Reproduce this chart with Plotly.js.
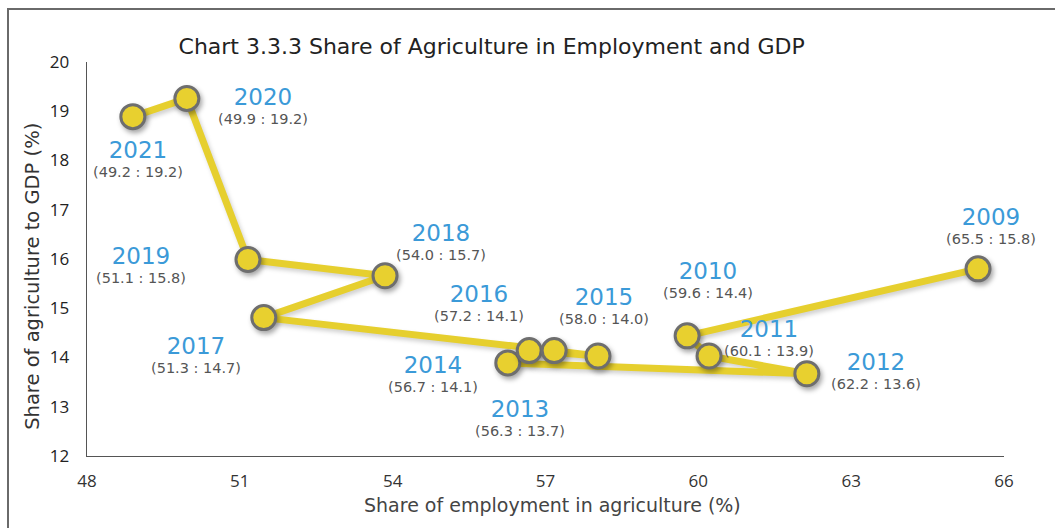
<!DOCTYPE html>
<html>
<head>
<meta charset="utf-8">
<script src="https://cdn.plot.ly/plotly-3.0.1.min.js"></script>
<style>
  html, body { margin: 0; padding: 0; background: #fff; }
  #wrap { position: relative; width: 1055px; height: 528px; }
  #chart { width: 1055px; height: 528px; }
  #frame { position: absolute; left: 7px; top: 8px; right: 0; bottom: 0;
           border-left: 2px solid #6a6a6a; border-top: 2px solid #6a6a6a; pointer-events: none; }
  #chart .scatterlayer .trace path.js-line { filter: drop-shadow(2px 3px 2px rgba(0,0,0,0.18)); }
  #chart .scatterlayer .trace path.point { filter: drop-shadow(2px 3px 2.5px rgba(0,0,0,0.35)); }
</style>
</head>
<body>
<div id="wrap">
  <div id="chart"></div>
  <div id="frame"></div>
</div>
<script>
// ---- data ----
const years = ['2009','2010','2011','2012','2013','2014','2015','2016','2017','2018','2019','2020','2021'];
// plotted position: share of employment in agriculture (%)
const employmentShare = [65.49, 59.78, 60.21, 62.13, 56.26, 56.68, 58.03, 57.17, 51.47, 53.85, 51.16, 49.96, 48.90];
// plotted position: share of agriculture to GDP (%)
const gdpShare = [15.80, 14.44, 14.03, 13.67, 13.89, 14.14, 14.03, 14.14, 14.81, 15.66, 15.99, 19.26, 18.89];
// value labels as printed on the chart
const valueLabels = ['(65.5 : 15.8)','(59.6 : 14.4)','(60.1 : 13.9)','(62.2 : 13.6)','(56.3 : 13.7)','(56.7 : 14.1)',
                     '(58.0 : 14.0)','(57.2 : 14.1)','(51.3 : 14.7)','(54.0 : 15.7)','(51.1 : 15.8)','(49.9 : 19.2)','(49.2 : 19.2)'];
const xTicks = [48, 51, 54, 57, 60, 63, 66];
const yTicks = [12, 13, 14, 15, 16, 17, 18, 19, 20];
const chartTitle = 'Chart 3.3.3 Share of Agriculture in Employment and GDP';
const xTitle = 'Share of employment in agriculture (%)';
const yTitle = 'Share of agriculture to GDP (%)';

// ---- label placement (pixel offsets of each label block from its point) ----
const labelOffset = [[13,-43],[21,-56],[60,-19],[69,-3],[12,55],[-96,23],[6,-51],[-75,-48],[-68,37],[56,-34],[-107,5],[76,7],[5,42]];

const FONT = 'Open Sans, Liberation Sans, sans-serif';
const WIDE = 'DejaVu Sans, Open Sans, sans-serif';

const traces = [
  {
    x: employmentShare, y: gdpShare, type: 'scatter', mode: 'lines',
    line: { color: '#e6cf2e', width: 7 }, hoverinfo: 'skip', showlegend: false
  },
  {
    x: employmentShare, y: gdpShare, type: 'scatter', mode: 'markers',
    marker: { size: 24, color: '#e8d02f', line: { color: '#6e6e6e', width: 3 } },
    text: years, showlegend: false
  }
];

const annotations = years.map((yr, i) => ({
  x: employmentShare[i], y: gdpShare[i], xref: 'x', yref: 'y', showarrow: false,
  text: '<span style="font-size:23px;color:#3b9ad8">' + yr + '</span><br>' + valueLabels[i],
  align: 'center', xanchor: 'center', yanchor: 'middle',
  xshift: labelOffset[i][0], yshift: -labelOffset[i][1],
  font: { family: WIDE, size: 14.5, color: '#555555' }
}));
// axis titles placed as annotations (they sit off-centre in the reference)
annotations.push({
  xref: 'paper', yref: 'paper', x: 0.508, y: -0.124, xanchor: 'center', yanchor: 'middle',
  showarrow: false, text: xTitle, font: { family: WIDE, size: 19, color: '#444444' }
});
annotations.push({
  xref: 'paper', yref: 'paper', x: -0.059, y: 0.457, xanchor: 'center', yanchor: 'middle',
  showarrow: false, textangle: -90, text: yTitle, font: { family: WIDE, size: 19.5, color: '#333333' }
});

const layout = {
  width: 1055, height: 528,
  margin: { l: 87, r: 51, t: 62, b: 72 },
  paper_bgcolor: '#ffffff', plot_bgcolor: '#ffffff',
  title: {
    text: chartTitle,
    xref: 'container', yref: 'container', x: 0.466, xanchor: 'center', y: 0.913, yanchor: 'middle',
    font: { family: WIDE, size: 22, color: '#222222' }
  },
  xaxis: {
    range: [48, 66], tickvals: xTicks, ticktext: xTicks.map(String),
    showgrid: false, zeroline: false, showline: true, linecolor: '#555555', linewidth: 1.3,
    ticks: '', ticklabelstandoff: 9,
    tickfont: { family: FONT, size: 17, color: '#333333' }
  },
  yaxis: {
    range: [12, 20], tickvals: yTicks, ticktext: yTicks.map(String),
    showgrid: false, zeroline: false, showline: true, linecolor: '#555555', linewidth: 1.3,
    ticks: '', ticklabelstandoff: 13,
    tickfont: { family: FONT, size: 17, color: '#222222' }
  },
  shapes: [
    { type: 'line', xref: 'x', yref: 'y', xsizemode: 'pixel', xanchor: 48, x0: -7, x1: 0, y0: 12, y1: 12,
      line: { color: '#555555', width: 1.3 } },
    { type: 'line', xref: 'x', yref: 'y', ysizemode: 'pixel', yanchor: 12, y0: -7, y1: 0, x0: 48, x1: 48,
      line: { color: '#555555', width: 1.3 } }
  ],
  annotations: annotations,
  showlegend: false
};

Plotly.newPlot('chart', traces, layout, { displayModeBar: false, staticPlot: true });
</script>
</body>
</html>
